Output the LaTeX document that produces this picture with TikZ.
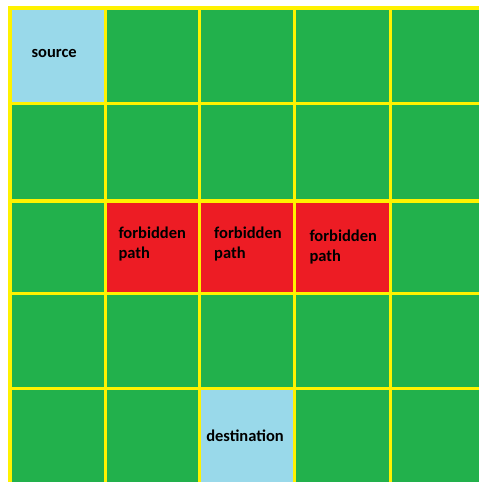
\documentclass[tikz,border=0pt]{standalone}
\usepackage{fontspec}
\setmainfont{Carlito}
\definecolor{cellgreen}{RGB}{34,177,76}
\definecolor{cellred}{RGB}{237,28,36}
\definecolor{cellblue}{RGB}{153,217,234}
\definecolor{gridyellow}{RGB}{255,242,0}
\tikzset{
  gridline/.style={draw=gridyellow, line width=3.5pt},
  label/.style={inner sep=0pt, font=\fontsize{16.5}{20}\selectfont\bfseries, text=black},
  forbidlabel/.style={label, align=left, anchor=west}
}
\begin{document}
\begin{tikzpicture}[x=1pt,y=-1pt]
\useasboundingbox (0,0) rectangle (479,482);
\fill[white] (0,0) rectangle (479,482);
% background grid area
\fill[cellgreen] (10,8) rectangle (479,482);
% special cells
\fill[cellblue] (10,8) rectangle (105.5,103.5);
\fill[cellred] (105.5,201) rectangle (390.5,293.5);
\fill[cellblue] (199.5,388.5) rectangle (294.5,482);
% grid lines
\foreach \x in {10,105.5,199.5,294.5,390.5}
  \draw[gridline] (\x,6) -- (\x,482);
\foreach \y in {8,103.5,201,293.5,388.5}
  \draw[gridline] (8,\y) -- (479,\y);
% labels
\node[label] (source) at (54.2,53.8) {source};
\node[forbidlabel] (forbidden1) at (118.3,243.8) {forbidden\\path};
\node[forbidlabel] (forbidden2) at (214,244.5) {forbidden\\path};
\node[forbidlabel] (forbidden3) at (309.3,246.7) {forbidden\\path};
\node[label] (destination) at (245,435.8) {destination};
\end{tikzpicture}
\end{document}
